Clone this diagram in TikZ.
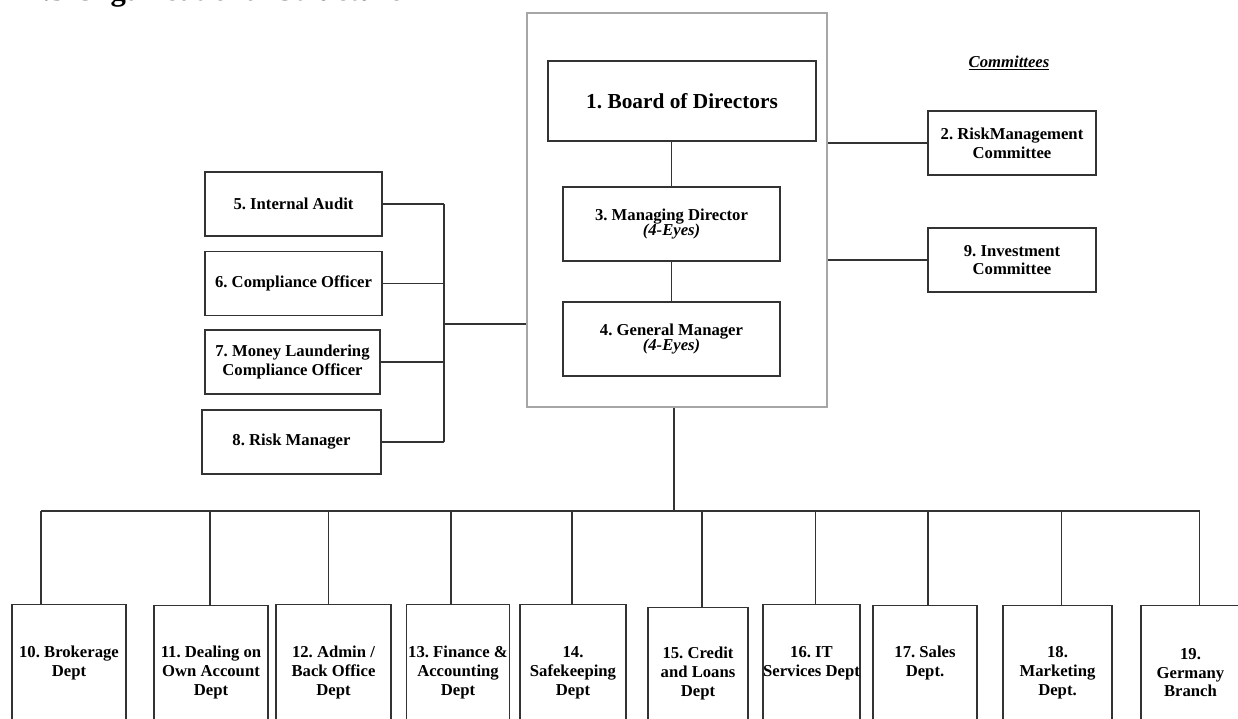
\documentclass[tikz,border=0pt]{standalone}
\usepackage{fontspec}
\setmainfont{Liberation Serif}
\frenchspacing
\usetikzlibrary{positioning,calc}
\tikzstyle{box} = [rectangle, draw=black!80, line width=0.9pt, inner sep=0pt,
align=center, text=black, font=\bfseries\fontsize{12.5}{14}\selectfont]
\tikzstyle{side} = [box, minimum height=48pt]
\tikzstyle{dept} = [box, anchor=north]
\tikzstyle{frame} = [rectangle, draw=black!35, line width=1.6pt, inner sep=0pt]
\tikzstyle{line} = [draw=black!80, line width=0.9pt]
\newcommand{\foureyes}{\\[-3pt]\textit{(4-Eyes)}}

\begin{document}
\begin{tikzpicture}[x=0.75pt,y=-0.75pt]
            \useasboundingbox (0,0) rectangle (1238,718);
            \node[anchor=base west, inner sep=0pt, font=\bfseries\fontsize{23}{26}\selectfont] (title) at (27,0.3) {1.3 Organisational Structure};
            \node[frame, minimum width=225pt, minimum height=295.5pt] (top) at (677,210) {};
            \node[box, minimum width=201pt, minimum height=60pt, font=\bfseries\fontsize{16}{18}\selectfont] (bod) at (682,101) {1. Board of Directors};
            \node[box, minimum width=162.75pt, minimum height=55.5pt] (md) at (671.5,224) {3. Managing Director\foureyes};
            \node[box, minimum width=162.75pt, minimum height=55.5pt] (gm) at (671.5,339) {4. General Manager\foureyes};
            \node[font=\bfseries\itshape\fontsize{12.5}{14}\selectfont] (cttl) at (1009,63) {\underline{Committees}};
            \node[side, minimum width=126pt] (rmc) at (1012,143) {2. RiskManagement\\Committee};
            \node[side, minimum width=126pt] (ic) at (1012,260) {9. Investment\\Committee};
            \node[side, minimum width=132.75pt] (ia) at (293.5,204) {5. Internal Audit};
            \node[side, minimum width=132.75pt] (co) at (293.5,283.5) {6. Compliance Officer};
            \node[side, minimum width=131.25pt] (mlco) at (292.5,362) {7. Money Laundering\\Compliance Officer};
            \node[side, minimum width=134.25pt] (rm) at (291.5,442) {8. Risk Manager};
            \node[dept, minimum width=85.5pt, minimum height=87.75pt] (d10) at (69,604) {10. Brokerage\\Dept};
            \node[dept, minimum width=85.5pt, minimum height=100.5pt] (d11) at (211,605) {11. Dealing on\\Own Account\\Dept};
            \node[dept, minimum width=86.25pt, minimum height=102pt] (d12) at (333.5,604) {12. Admin /\\Back Office\\Dept};
            \node[dept, minimum width=77.25pt, minimum height=102pt] (d13) at (458,604) {13. Finance \&\\Accounting\\Dept};
            \node[dept, minimum width=79.5pt, minimum height=102pt] (d14) at (573,604) {14.\\Safekeeping\\Dept};
            \node[dept, minimum width=75pt, minimum height=99pt] (d15) at (698,607) {15. Credit\\and Loans\\Dept};
            \node[dept, minimum width=72.75pt, minimum height=87.75pt] (d16) at (811.5,604) {16. IT\\Services Dept};
            \node[dept, minimum width=78pt, minimum height=86.25pt] (d17) at (925,605) {17. Sales\\Dept.};
            \node[dept, minimum width=81.75pt, minimum height=100.5pt] (d18) at (1057.5,605) {18.\\Marketing\\Dept.};
            \node[dept, minimum width=74.25pt, minimum height=100.5pt] (d19) at (1190.5,605) {19.\\Germany\\Branch};
            \draw[line] (bod.south -| md.north) -- (md.north);
            \draw[line] (md.south) -- (gm.north);
            \foreach \n in {rmc,ic}
                \draw[line] (top.east |- \n.west) -- (\n.west);
            \coordinate (lbus) at (444,324);
            \foreach \n in {ia,co,mlco,rm}
                \draw[line] (\n.east) -- (\n.east -| lbus);
            \draw[line] (ia.east -| lbus) -- (rm.east -| lbus);
            \draw[line] (lbus) -- (lbus -| top.west);
            \coordinate (bus) at (674,511);
            \draw[line] (bus |- top.south) -- (bus);
            \foreach \n/\dx in {10/-28,11/-1,12/-5,13/-7,14/-1,15/4,16/4,17/3,18/4,19/9} {
                \coordinate (dr\n) at ($(d\n.north)+(\dx,0)$);
                \draw[line] (dr\n) -- (dr\n |- bus);
            }
            \draw[line] (dr10 |- bus) -- (dr19 |- bus);
        \end{tikzpicture}
\end{document}
